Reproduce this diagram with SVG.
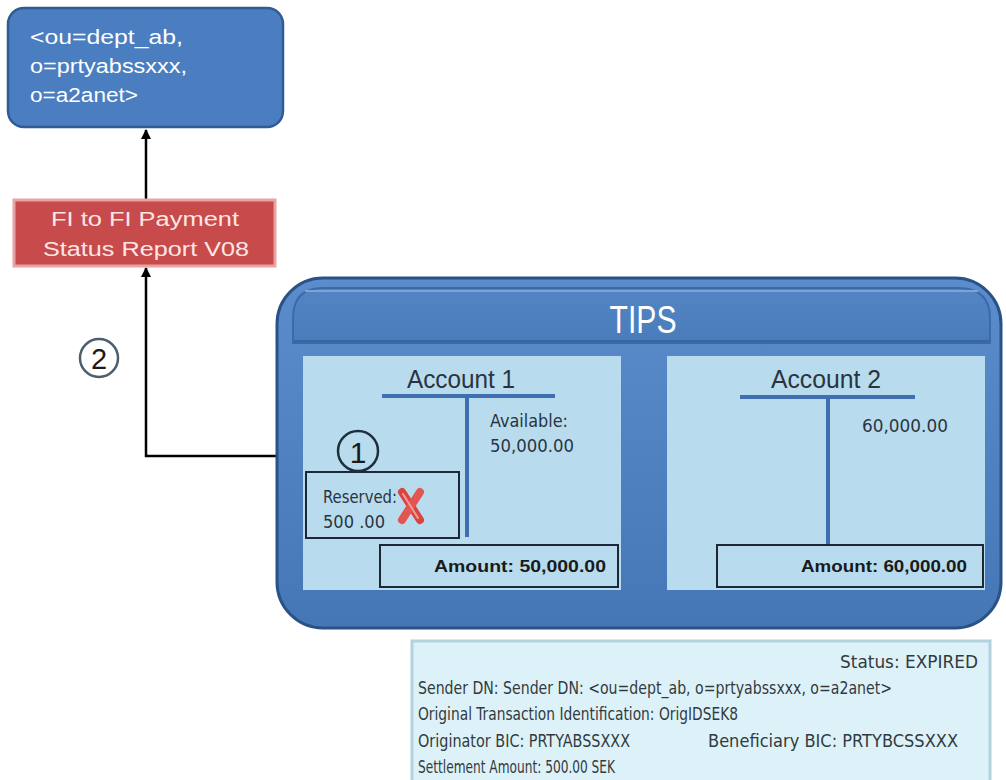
<svg xmlns="http://www.w3.org/2000/svg" width="1006" height="780" viewBox="0 0 1006 780">
<style>
text{font-family:"Liberation Sans",Arial,sans-serif}
.nr{font-family:"Liberation Sans Narrow","DejaVu Sans Condensed","Liberation Sans",sans-serif}
.wt{fill:#ffffff}
.dk{fill:#2a3440}
.pn{fill:#b8dcee}
.bx{fill:#b8dcee;stroke:#1c2838;stroke-width:2}
.tl{stroke:#3f6fae;stroke-width:4;fill:none}
.cn{stroke:#000;stroke-width:2.5;fill:none}
.inf{fill:#323a40;font-size:18px}
</style>
<defs>
<marker id="ah" viewBox="0 0 10 10" refX="9" refY="5" markerWidth="4" markerHeight="4" orient="auto-start-reverse">
<path d="M0,0 L10,5 L0,10 z" fill="#000"/>
</marker>
<linearGradient id="tg" x1="0" y1="0" x2="0" y2="1">
<stop offset="0" stop-color="#5b8dcc"/>
<stop offset="1" stop-color="#4576b6"/>
</linearGradient>
<linearGradient id="hg" x1="0" y1="0" x2="0" y2="1">
<stop offset="0" stop-color="#5384c4"/>
<stop offset="1" stop-color="#4a7cbc"/>
</linearGradient>
</defs>

<g id="connectors">
<line class="cn" x1="146" y1="200" x2="146" y2="130" marker-end="url(#ah)"/>
<polyline class="cn" points="277,456 146,456 146,268" marker-end="url(#ah)"/>
</g>

<g id="node-dn">
<rect x="8" y="8" width="275" height="119" rx="16" fill="#4a7ec0" stroke="#2f5c94" stroke-width="2.5"/>
<text class="wt" x="30" y="44" font-size="20" textLength="153" lengthAdjust="spacingAndGlyphs">&lt;ou=dept_ab,</text>
<text class="wt" x="30" y="73" font-size="20" textLength="157" lengthAdjust="spacingAndGlyphs">o=prtyabssxxx,</text>
<text class="wt" x="30" y="102" font-size="20" textLength="108" lengthAdjust="spacingAndGlyphs">o=a2anet&gt;</text>
</g>

<g id="node-msg">
<rect x="14" y="200" width="261" height="66" fill="#c74b4a" stroke="#e9a3a3" stroke-width="3"/>
<text x="145" y="226" font-size="20" fill="#fde6e6" text-anchor="middle" textLength="188" lengthAdjust="spacingAndGlyphs">FI to FI Payment</text>
<text x="146" y="256" font-size="20" fill="#fde6e6" text-anchor="middle" textLength="206" lengthAdjust="spacingAndGlyphs">Status Report V08</text>
</g>

<g id="step-2">
<circle cx="99" cy="358" r="19" fill="#fff" stroke="#4d5d6b" stroke-width="2.5"/>
<text x="99" y="369" font-size="29" fill="#1a1a1a" text-anchor="middle">2</text>
</g>

<g id="node-tips">
<rect x="277" y="278" width="724" height="350" rx="46" fill="url(#tg)" stroke="#2a5285" stroke-width="3"/>
<path d="M293,343 L293,318 Q293,288 323,288 L958,288 Q990,288 990,318 L990,343 Z" fill="url(#hg)" stroke="#3c6aa6" stroke-width="2"/>
<line x1="305" y1="291" x2="978" y2="291" stroke="#7aa3d6" stroke-width="2"/>
<line x1="294" y1="341" x2="989" y2="341" stroke="#3a66a0" stroke-width="2"/>
<text class="wt" x="643" y="333" font-size="38" text-anchor="middle" textLength="67" lengthAdjust="spacingAndGlyphs">TIPS</text>
</g>

<g id="account-1">
<rect class="pn" x="303" y="356" width="318" height="234"/>
<text class="dk" x="461" y="388" font-size="25" text-anchor="middle" textLength="108" lengthAdjust="spacingAndGlyphs">Account 1</text>
<line class="tl" x1="382" y1="396" x2="555" y2="396"/>
<line class="tl" x1="467" y1="396" x2="467" y2="537"/>
<text class="dk nr" x="490" y="427" font-size="17.5" textLength="78" lengthAdjust="spacingAndGlyphs">Available:</text>
<text class="dk nr" x="490" y="452" font-size="17.5" textLength="84" lengthAdjust="spacingAndGlyphs">50,000.00</text>
<rect class="bx" x="306" y="472" width="153" height="66"/>
<text class="dk nr" x="323" y="503" font-size="18" textLength="74" lengthAdjust="spacingAndGlyphs">Reserved:</text>
<text class="dk nr" x="323" y="528" font-size="18" textLength="62" lengthAdjust="spacingAndGlyphs">500 .00</text>
<g id="cross" stroke-linecap="round">
<line x1="402" y1="492" x2="420" y2="520" stroke="#d9443f" stroke-width="8"/>
<line x1="420" y1="492" x2="402" y2="520" stroke="#e35550" stroke-width="8"/>
<line x1="403" y1="494" x2="418" y2="518" stroke="#f39a96" stroke-width="2"/>
</g>
<circle cx="358" cy="451" r="20" fill="none" stroke="#1f2d3c" stroke-width="2.5"/>
<text x="358" y="463" font-size="30" fill="#1a1a1a" text-anchor="middle">1</text>
<rect class="bx" x="380" y="545" width="238" height="42"/>
<text x="606" y="572" font-size="17" font-weight="bold" fill="#1a1a1a" text-anchor="end" textLength="172" lengthAdjust="spacingAndGlyphs">Amount: 50,000.00</text>
</g>

<g id="account-2">
<rect class="pn" x="667" y="356" width="318" height="234"/>
<text class="dk" x="826" y="388" font-size="25" text-anchor="middle" textLength="110" lengthAdjust="spacingAndGlyphs">Account 2</text>
<line class="tl" x1="740" y1="397" x2="915" y2="397"/>
<line class="tl" x1="828" y1="397" x2="828" y2="565"/>
<text class="dk nr" x="862" y="432" font-size="17.5" textLength="86" lengthAdjust="spacingAndGlyphs">60,000.00</text>
<rect class="bx" x="717" y="545" width="266" height="42"/>
<text x="967" y="572" font-size="17" font-weight="bold" fill="#1a1a1a" text-anchor="end" textLength="166" lengthAdjust="spacingAndGlyphs">Amount: 60,000.00</text>
</g>

<g id="info">
<rect x="412" y="641" width="578" height="150" fill="#ddf2f8" stroke="#b3d2de" stroke-width="3"/>
<text class="inf nr" x="978" y="668" text-anchor="end" textLength="138" lengthAdjust="spacingAndGlyphs">Status: EXPIRED</text>
<text class="inf nr" x="418" y="694" textLength="474" lengthAdjust="spacingAndGlyphs">Sender DN: Sender DN: &lt;ou=dept_ab, o=prtyabssxxx, o=a2anet&gt;</text>
<text class="inf nr" x="418" y="720" textLength="320" lengthAdjust="spacingAndGlyphs">Original Transaction Identification: OrigIDSEK8</text>
<text class="inf nr" x="418" y="747" textLength="212" lengthAdjust="spacingAndGlyphs">Originator BIC: PRTYABSSXXX</text>
<text class="inf nr" x="708" y="747" textLength="250" lengthAdjust="spacingAndGlyphs">Beneficiary BIC: PRTYBCSSXXX</text>
<text class="inf nr" x="418" y="773" textLength="197" lengthAdjust="spacingAndGlyphs">Settlement Amount: 500.00 SEK</text>
</g>
</svg>
